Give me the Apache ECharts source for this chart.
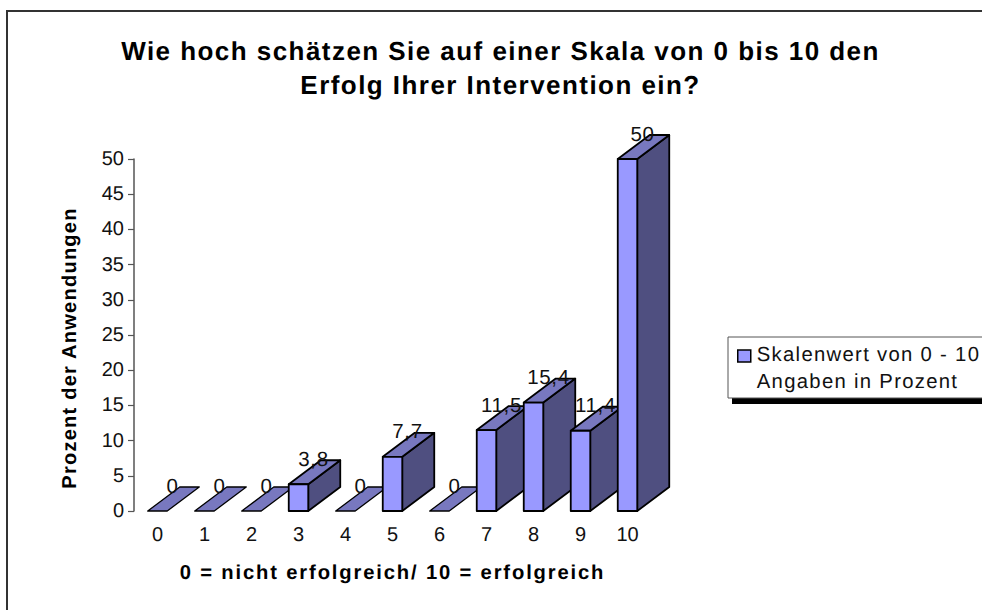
<!DOCTYPE html>
<html><head><meta charset="utf-8">
<style>html,body{margin:0;padding:0;background:#fff}#c{width:982px;height:610px}
#c text{text-rendering:geometricPrecision}
#c text[style*="26px"]{letter-spacing:1.45px}
#c text[style*="20.5px"]{letter-spacing:.6px}
#c text[style*="20.2px"]{letter-spacing:1.85px}
#c text[style*="20.1px"]{letter-spacing:1.2px}
#c text[style*="20.3px"]{letter-spacing:1.3px}
</style>
<script src="https://cdn.jsdelivr.net/npm/echarts@6/dist/echarts.min.js"></script>
</head><body><div id="c"></div>
<script>
const categories = ['0','1','2','3','4','5','6','7','8','9','10'];
const values = [0,0,0,3.8,0,7.7,0,11.5,15.4,11.4,50];
const titleLines = 'Wie hoch schätzen Sie auf einer Skala von 0 bis 10 den\nErfolg Ihrer Intervention ein?';
const xName = '0 = nicht erfolgreich/ 10 = erfolgreich';
const yName = 'Prozent der Anwendungen';
const seriesName = 'Skalenwert von 0 - 10\nAngaben in Prozent';
const FONT = '"Liberation Sans", Arial, sans-serif';
const FRONT='#9999ff', TOP='#7878bf', SIDE='#4f4f80', INK='#000';
const DX=32, DY=24;
function renderItem(params, api){
  const i = api.value(0), v = api.value(1);
  const base = api.coord([i,0]), top = api.coord([i,v]);
  const w = 19.5, x0 = base[0]-w/2, x1 = base[0]+w/2, y0 = base[1], y1 = top[1];
  const ln = {stroke:INK, lineWidth:1.8, lineJoin:'round'};
  const kids = [];
  if (v>0){
    kids.push({type:'polygon',shape:{points:[[x1,y0],[x1+DX,y0-DY],[x1+DX,y1-DY],[x1,y1]]},style:Object.assign({fill:SIDE},ln)});
    kids.push({type:'polygon',shape:{points:[[x0,y1],[x1,y1],[x1+DX,y1-DY],[x0+DX,y1-DY]]},style:Object.assign({fill:TOP},ln)});
    kids.push({type:'rect',shape:{x:x0,y:y1,width:w,height:y0-y1},style:Object.assign({fill:FRONT},ln)});
  } else {
    kids.push({type:'polygon',shape:{points:[[x0,y1],[x1,y1],[x1+DX,y1-DY],[x0+DX,y1-DY]]},style:{fill:TOP,stroke:INK,lineWidth:1.3,lineJoin:'round'}});
  }
  kids.push({type:'text',style:{x:base[0]+15,y:y1-25,text:String(v).replace('.',','),fill:'#111',font:'20.5px '+FONT,align:'center',verticalAlign:'middle'}});
  return {type:'group',children:kids};
}
const chart = echarts.init(document.getElementById('c'),null,{renderer:'svg'});
chart.setOption({
  animation:false,
  backgroundColor:'#fff',
  title:{text:titleLines,left:495.5,top:29,textAlign:'center',textStyle:{fontFamily:FONT,fontSize:26,fontWeight:'bold',color:'#000',lineHeight:34}},
  grid:{left:134,right:331,top:159,bottom:99},
  xAxis:{type:'category',data:categories,axisLine:{show:false},axisTick:{show:false},
    axisLabel:{fontFamily:FONT,fontSize:20,color:'#111',margin:14},
    name:xName,nameLocation:'middle',nameGap:52,nameTextStyle:{fontFamily:FONT,fontSize:20.2,fontWeight:'bold',color:'#000'}},
  yAxis:{type:'value',min:0,max:50,interval:5,splitLine:{show:false},
    axisLine:{show:true,lineStyle:{color:'#555',width:1.5}},axisTick:{show:true,length:6,lineStyle:{color:'#555',width:1.2}},
    axisLabel:{fontFamily:FONT,fontSize:20,color:'#111',margin:10,padding:[0,0,3,0]},
    name:yName,nameLocation:'middle',nameGap:54,nameTextStyle:{fontFamily:FONT,fontSize:20.1,fontWeight:'bold',color:'#000',padding:[0,26,0,0]}},
  legend:{left:728,top:337,orient:'vertical',padding:[4,60,3,9],itemGap:0,itemWidth:13,itemHeight:40,
    backgroundColor:'#fff',borderColor:'#555',borderWidth:1,z:4,
    icon:'path://M0 0Z M0 2H13V14H0Z M0 40Z',
    itemStyle:{color:FRONT,borderColor:INK,borderWidth:1.5},
    textStyle:{fontFamily:FONT,fontSize:20.3,color:'#111',lineHeight:27,padding:[0,0,0,1]},
    data:[seriesName]},
  graphic:[
    {type:'rect',silent:true,z:0,shape:{x:7,y:11,width:1000,height:1000},style:{fill:'#fff',stroke:'#333',lineWidth:2}},
    {type:'rect',silent:true,z:1,shape:{x:732,y:343,width:300,height:61},style:{fill:'#000'}}
  ],
  series:[{type:'custom',name:seriesName,renderItem,encode:{x:0,y:1},clip:false,
    itemStyle:{color:FRONT},
    data:values.map((v,i)=>[i,v])}]
});
</script></body></html>
